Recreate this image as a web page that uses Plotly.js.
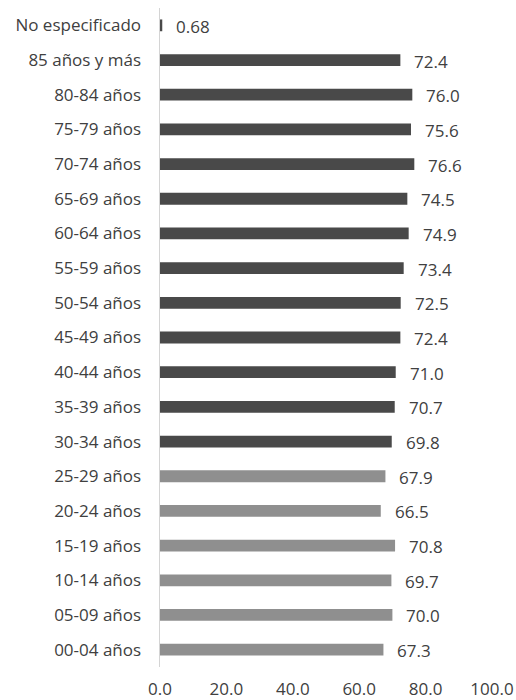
<!DOCTYPE html>
<html>
<head>
<meta charset="utf-8">
<script src="https://cdn.plot.ly/plotly-3.0.1.min.js"></script>
<style>html,body{margin:0;padding:0;background:#fff;}#chart{width:516px;height:700px;}</style>
</head>
<body>
<div id="chart"></div>
<script>
// Categories, bottom to top
const categories = [
  "00-04 años", "05-09 años", "10-14 años", "15-19 años", "20-24 años", "25-29 años",
  "30-34 años", "35-39 años", "40-44 años", "45-49 años", "50-54 años", "55-59 años",
  "60-64 años", "65-69 años", "70-74 años", "75-79 años", "80-84 años", "85 años y más",
  "No especificado"
];
const values = [
  67.3, 70.0, 69.7, 70.8, 66.5, 67.9,
  69.8, 70.7, 71.0, 72.4, 72.5, 73.4,
  74.9, 74.5, 76.6, 75.6, 76.0, 72.4,
  0.68
];
const xTickValues = [0, 20, 40, 60, 80, 100];
const xTickLabels = ["0.0", "20.0", "40.0", "60.0", "80.0", "100.0"];

const LIGHT = "#8f8f8f", DARK = "#494949", TEXT = "#404040";
const FONT = "Open Sans, sans-serif";
const FS = 17;
const colors = categories.map((c, i) => i < 6 ? LIGHT : DARK);
const labelText = values.map(v => v < 1 ? v.toFixed(2) : v.toFixed(1));

const trace = {
  type: "bar",
  orientation: "h",
  y: categories,
  x: values,
  marker: {color: colors},
  hoverinfo: "none"
};

const annotations = categories.map((c, i) => ({
  x: values[i], y: c, xref: "x", yref: "y",
  text: labelText[i], showarrow: false,
  xanchor: "left", yanchor: "middle", xshift: 12, yshift: -1,
  font: {family: FONT, size: FS, color: TEXT}
}));

const layout = {
  width: 516, height: 700,
  margin: {l: 160, r: 24, t: 8, b: 33},
  paper_bgcolor: "#fff", plot_bgcolor: "#fff",
  showlegend: false,
  bargap: 0.66,
  font: {family: FONT, size: FS, color: TEXT},
  xaxis: {
    range: [0, 100], tickvals: xTickValues, ticktext: xTickLabels,
    showgrid: false, zeroline: false, showline: false, ticks: "",
    ticklabelstandoff: 10,
    tickfont: {family: FONT, size: FS, color: TEXT},
    fixedrange: true
  },
  yaxis: {
    type: "category", categoryorder: "array", categoryarray: categories,
    showgrid: false, zeroline: false, showline: true, linecolor: "#d4d4d4", linewidth: 1.5,
    ticks: "", ticklabelstandoff: 14,
    tickfont: {family: FONT, size: FS, color: TEXT},
    fixedrange: true
  },
  annotations: annotations
};

Plotly.newPlot("chart", [trace], layout, {displayModeBar: false, staticPlot: true});
</script>
</body>
</html>
